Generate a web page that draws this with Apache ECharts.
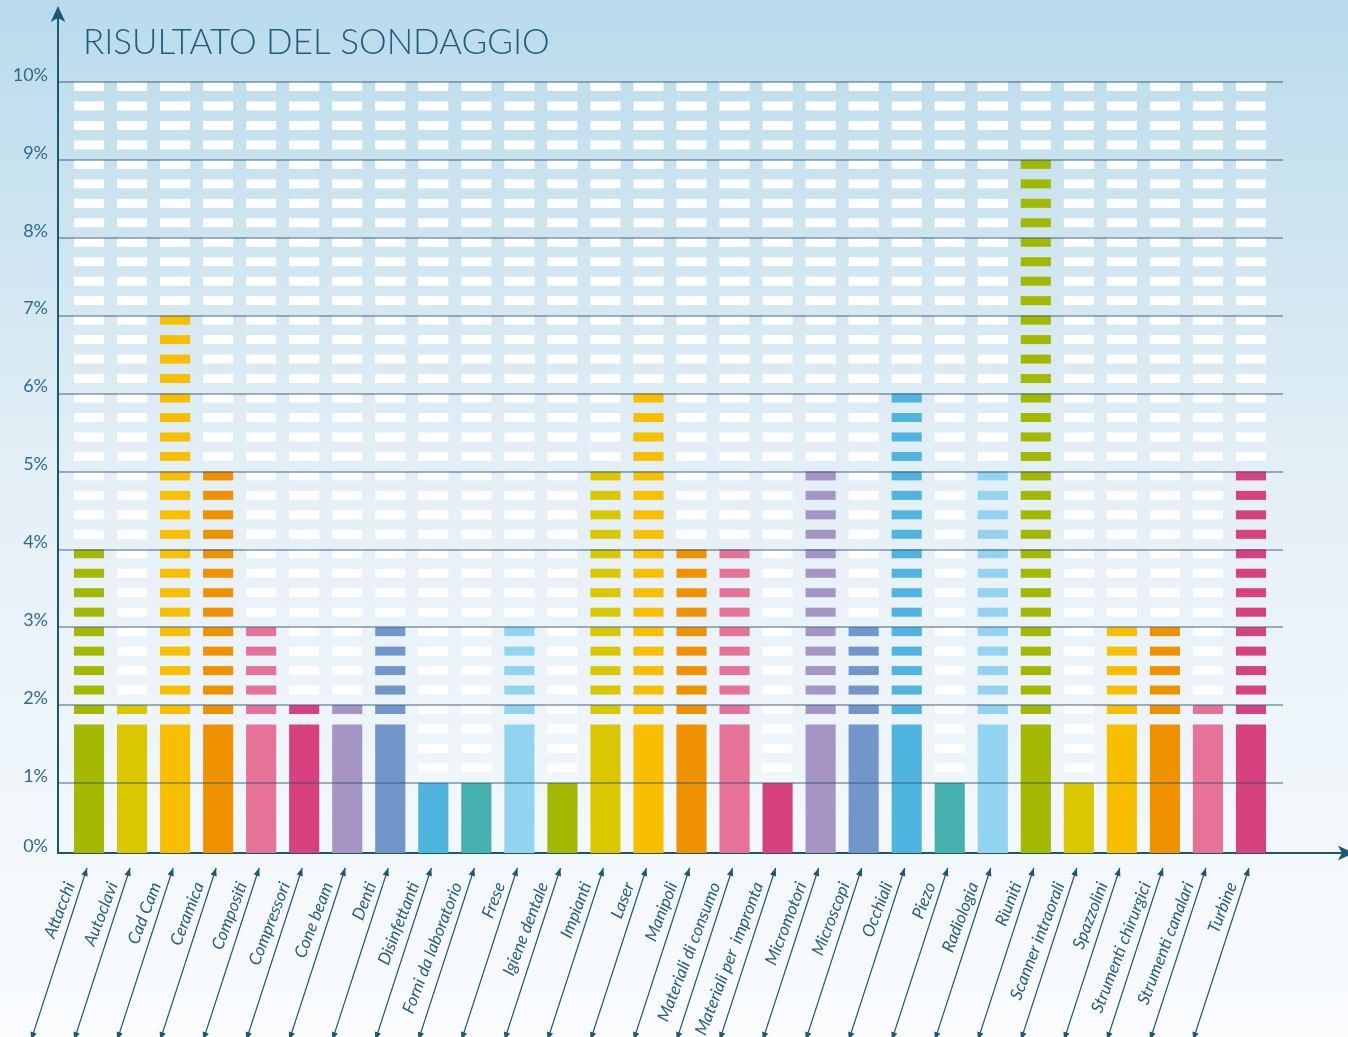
<!DOCTYPE html>
<html><head><meta charset="utf-8">
<script src="https://cdn.jsdelivr.net/npm/echarts@6/dist/echarts.min.js"></script>
<style>html,body{margin:0;padding:0;background:#fff;}#c{width:1348px;height:1037px;}</style>
</head><body><div id="c"></div>
<script>
const titleText = 'RISULTATO DEL SONDAGGIO';
const categories = ['Attacchi','Autoclavi','Cad Cam','Ceramica','Compositi','Compressori','Cone beam','Denti','Disinfettanti','Forni da laboratorio','Frese','Igiene dentale','Impianti','Laser','Manipoli','Materiali di consumo','Materiali per  impronta','Micromotori','Microscopi','Occhiali','Piezo','Radiologia','Riuniti','Scanner intraorali','Spazzolini','Strumenti chirurgici','Strumenti canalari','Turbine'];
const values = [4,2,7,5,3,2,2,3,1,1,3,1,5,6,4,4,1,5,3,6,1,5,9,1,3,3,2,5];
const palette = ['#a3b800','#d9c800','#f8bf00','#f09200','#e77297','#d6417e','#a595c4','#7296c9','#4fb4de','#45b0ad','#91d3f0'];
const yTickValues = [0,1,2,3,4,5,6,7,8,9,10];

const AXIS_MIN = 0.1, AXIS_MAX = 10, SOLID_CAP = 1.75, STEP = 0.25;
const DARK = '#1b5876';
const TEXT = '#245f7e';
const colorOf = i => palette[i % palette.length];

const chart = echarts.init(document.getElementById('c'), null, {renderer:'canvas'});
const barData = values.map((v, i) => [i, v]);

const option = {
  animation: false,
  backgroundColor: new echarts.graphic.LinearGradient(0, 0, 0, 1, [
    {offset: 0, color: '#b9dbeb'},
    {offset: 0.45, color: '#e3eff6'},
    {offset: 1, color: '#fafcfe'}
  ]),
  title: {
    text: titleText, left: 78, top: 20,
    textStyle: {color: '#1f5d7c', fontSize: 35, fontWeight: 300, fontFamily: 'Lato'}
  },
  grid: [
    {left: 58, right: 0, top: 12, bottom: 184},
    {left: 58, right: 65, top: 82, bottom: 184},
    {left: 67.5, right: 75.5, top: 82, bottom: 184}
  ],
  xAxis: [
    {gridIndex: 0, type: 'value', min: 0, max: 1, axisLabel: {show: false}, axisTick: {show: false}, splitLine: {show: false},
     axisLine: {show: true, symbol: ['none', 'arrow'], symbolSize: [11, 16], symbolOffset: [0, 6], lineStyle: {color: DARK, width: 2}}},
    {gridIndex: 1, type: 'value', min: 0, max: 1, show: false},
    {gridIndex: 2, type: 'category', data: categories, show: false}
  ],
  yAxis: [
    {gridIndex: 0, type: 'value', min: 0, max: 1, axisLabel: {show: false}, axisTick: {show: false}, splitLine: {show: false},
     axisLine: {show: true, symbol: ['none', 'arrow'], symbolSize: [11, 16], symbolOffset: [0, 6], lineStyle: {color: DARK, width: 2}}},
    {gridIndex: 1, type: 'value', min: AXIS_MIN, max: AXIS_MAX, z: 5,
     axisLine: {show: false},
     axisTick: {show: false, customValues: yTickValues.filter(v => v > 0)},
     axisLabel: {show: true, customValues: yTickValues.map(v => Math.max(v, AXIS_MIN)), formatter: v => Math.round(v) + '%',
       color: '#2d6c8c', fontSize: 18, fontWeight: 'normal', fontFamily: 'Lato', margin: 10, verticalAlign: 'bottom', lineHeight: 14},
     splitLine: {show: true, lineStyle: {color: 'rgba(45,85,115,0.6)', width: 1.5}}},
    {gridIndex: 2, type: 'value', min: AXIS_MIN, max: AXIS_MAX, show: false}
  ],
  series: [
    {
      type: 'custom', xAxisIndex: 2, yAxisIndex: 2, data: barData, clip: true,
      renderItem: function (params, api) {
        const i = api.value(0), v = api.value(1);
        const color = colorOf(i);
        const bw = api.size([1, 0])[0] * 0.7;
        const dh = 9;
        const base = api.coord([i, AXIS_MIN]);
        const solidTop = Math.min(v, SOLID_CAP);
        const top = api.coord([i, solidTop]);
        const children = [{type: 'rect', shape: {x: base[0] - bw / 2, y: top[1], width: bw, height: base[1] - top[1]}, style: {fill: color}}];
        for (let k = Math.round(solidTop / STEP) + 1; k * STEP <= AXIS_MAX + 1e-9; k++) {
          const L = k * STEP;
          const p = api.coord([i, L]);
          children.push({type: 'rect', shape: {x: p[0] - bw / 2, y: p[1], width: bw, height: dh},
            style: {fill: L <= v + 1e-9 ? color : '#ffffff'}});
        }
        return {type: 'group', children};
      }
    },
    {
      type: 'custom', xAxisIndex: 2, yAxisIndex: 2, data: barData, clip: false, silent: true,
      renderItem: function (params, api) {
        const i = api.value(0);
        const p = api.coord([i, AXIS_MIN]);
        const tx = p[0] - 2, ty = p[1] + 15;
        const by = p[1] + 187;
        const ang = 72 * Math.PI / 180;
        const bx = tx - (by - ty) / Math.tan(ang);
        const len = Math.hypot(tx - bx, by - ty);
        const d = [(tx - bx) / len, (ty - by) / len];
        const n = [-d[1], d[0]];
        const ah = 8, aw = 3.2;
        const head = (x, y, s) => ({type: 'polygon', shape: {points: [
          [x, y],
          [x - s * ah * d[0] + aw * n[0], y - s * ah * d[1] + aw * n[1]],
          [x - s * ah * d[0] - aw * n[0], y - s * ah * d[1] - aw * n[1]]
        ]}, style: {fill: DARK}});
        return {type: 'group', children: [
          {type: 'line', shape: {x1: bx, y1: by, x2: tx, y2: ty}, style: {stroke: DARK, lineWidth: 1.2}},
          head(tx, ty, 1),
          head(bx, by, -1),
          {type: 'text', x: p[0] - 19, y: p[1] + 30, rotation: 69 * Math.PI / 180,
           style: {text: categories[i], align: 'right', verticalAlign: 'middle', fill: TEXT,
             fontSize: 17, fontWeight: 'normal', fontStyle: 'italic', fontFamily: 'Lato'}}
        ]};
      }
    }
  ]
};
chart.setOption(option);
</script>
</body></html>
